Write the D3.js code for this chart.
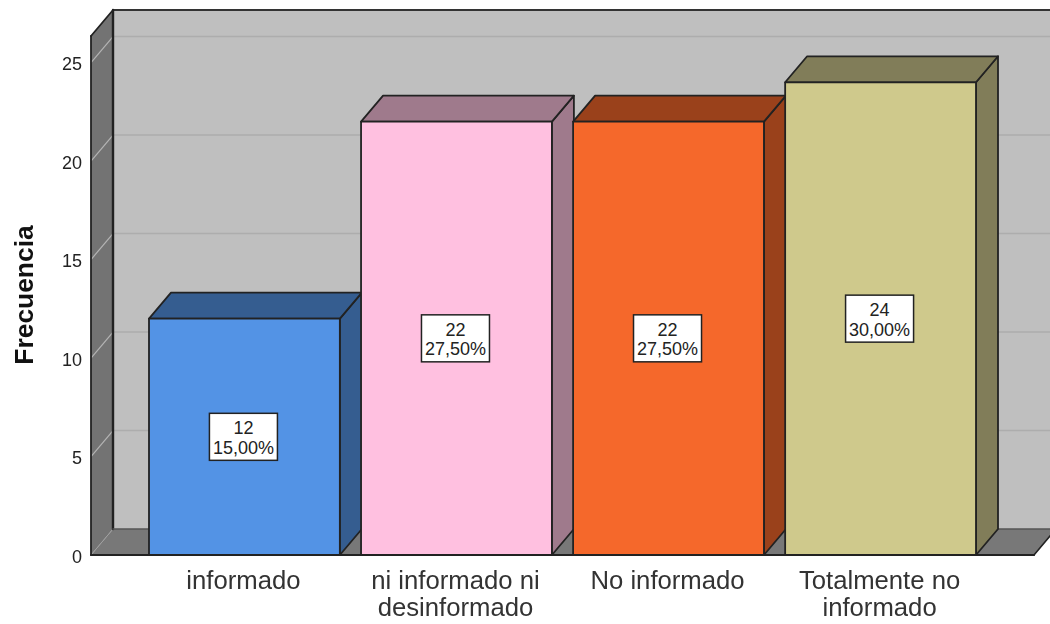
<!DOCTYPE html>
<html><head><meta charset="utf-8">
<script src="https://cdn.jsdelivr.net/npm/d3@7"></script>
<style>html,body{margin:0;padding:0;background:#fff}svg{display:block;filter:blur(0.35px)}text{font-family:"Liberation Sans",Arial,sans-serif}</style>
</head><body><svg id="c" width="1050" height="624"></svg>
<script>
const categories=[["informado"],["ni informado ni","desinformado"],["No informado"],["Totalmente no","informado"]];
const counts=[12,22,22,24];
const percents=["15,00%","27,50%","27,50%","30,00%"];
const frontColors=["#5393e5","#ffc0e0","#f5682b","#cfc98c"];
const sideColors=["#355d90","#9f7a8c","#9a411b","#817d59"];
const yTicks=[0,5,10,15,20,25];
const yTop=26.35;
const yTitle="Frecuencia";

const dx=22,dy=-26,line="#222";
const svg=d3.select("#c");
const y=d3.scaleLinear().domain([0,yTop]).range([555,36]);
const x=d3.scaleBand().domain(d3.range(counts.length)).range([149,976]).paddingInner(0.1);
const poly=pts=>pts.map(p=>p.join(",")).join(" ");
const L=91,R=1034;
const y0=y(0),yT=y(yTop);

// back wall
svg.append("polygon").attr("points",poly([[L+dx,yT+dy],[1050,yT+dy],[1050,y0+dy],[L+dx,y0+dy]])).attr("fill","#bfbfbf");
// left wall
svg.append("polygon").attr("points",poly([[L,yT],[L+dx,yT+dy],[L+dx,y0+dy],[L,y0]])).attr("fill","#737373");
// floor
svg.append("polygon").attr("points",poly([[L,y0],[L+dx,y0+dy],[R+dx,y0+dy],[R,y0]])).attr("fill","#787878");
// grid
const gt=yTicks.filter(d=>d>0);
svg.selectAll(".gb").data(gt).join("line").attr("x1",L+dx).attr("x2",1050).attr("y1",d=>y(d)+dy).attr("y2",d=>y(d)+dy).attr("stroke","#adadad").attr("stroke-width",1.5);
svg.selectAll(".gs").data(gt).join("line").attr("x1",L).attr("x2",L+dx).attr("y1",d=>y(d)).attr("y2",d=>y(d)+dy).attr("stroke","#b4b4b4").attr("stroke-width",1.2);
svg.append("line").attr("x1",L).attr("y1",y0).attr("x2",L+dx).attr("y2",y0+dy).attr("stroke","#a0a0a0").attr("stroke-width",1);
// wall edges
const edge=(a,b,w,c)=>svg.append("line").attr("x1",a[0]).attr("y1",a[1]).attr("x2",b[0]).attr("y2",b[1]).attr("stroke",c||line).attr("stroke-width",w).attr("stroke-linecap","round");
edge([L+dx,yT+dy],[1050,yT+dy],2.2,"#333");
edge([L+dx,yT+dy],[L+dx,y0+dy],2.4);
edge([L,yT],[L+dx,yT+dy],1.8);
edge([L,yT],[L,y0],1.8);
edge([L+dx,y0+dy],[1050,y0+dy],1.5,"#555");
edge([R,y0],[R+dx,y0+dy],1.6);
edge([L,y0],[R,y0],2.2);

// bars
const bars=svg.selectAll(".bar").data(counts).join("g").attr("class","bar");
const st=s=>s.attr("stroke",line).attr("stroke-width",1.8).attr("stroke-linejoin","round");
bars.append("polygon").attr("points",(d,i)=>{const a=x(i)+x.bandwidth();return poly([[a,y(d)],[a+dx,y(d)+dy],[a+dx,y0+dy],[a,y0]]);}).attr("fill",(d,i)=>sideColors[i]).call(st);
bars.append("polygon").attr("points",(d,i)=>{const a=x(i),b=a+x.bandwidth();return poly([[a,y(d)],[a+dx,y(d)+dy],[b+dx,y(d)+dy],[b,y(d)]]);}).attr("fill",(d,i)=>sideColors[i]).call(st);
bars.append("rect").attr("x",(d,i)=>x(i)).attr("y",d=>y(d)).attr("width",x.bandwidth()).attr("height",d=>y0-y(d)).attr("fill",(d,i)=>frontColors[i]).call(st);

// value labels
const lab=svg.selectAll(".lab").data(counts).join("g").attr("class","lab")
 .attr("transform",(d,i)=>`translate(${x(i)+x.bandwidth()/2-1},${(y(d)+y0)/2})`);
lab.append("rect").attr("x",-34).attr("y",-23.5).attr("width",68).attr("height",47).attr("fill","#fff").attr("stroke","#222").attr("stroke-width",1.5);
lab.append("text").attr("text-anchor","middle").attr("y",-2.5).attr("font-size",18).attr("fill","#222").text(d=>d);
lab.append("text").attr("text-anchor","middle").attr("y",17).attr("font-size",18).attr("fill","#222").text((d,i)=>percents[i]);

// y axis
const ax=svg.append("g").attr("transform",`translate(${L-9},1.5)`).call(d3.axisLeft(y).tickValues(yTicks).tickSize(0).tickPadding(0));
ax.select(".domain").remove();
ax.selectAll("text").attr("font-size",18).attr("fill","#222").style("font-family",'"Liberation Sans",Arial,sans-serif');

// x labels
const xl=svg.selectAll(".xl").data(categories).join("text").attr("class","xl").attr("text-anchor","middle").attr("font-size",25.7).attr("fill","#333");
xl.selectAll("tspan").data((d,i)=>d.map(t=>({t,i}))).join("tspan")
 .attr("x",d=>x(d.i)+x.bandwidth()/2-1).attr("y",(d,j)=>589+j*27).text(d=>d.t);

// y title
svg.append("text").attr("transform","translate(33,295) rotate(-90)").attr("text-anchor","middle").attr("font-size",26.4).attr("font-weight","bold").attr("fill","#111").text(yTitle);
</script></body></html>
